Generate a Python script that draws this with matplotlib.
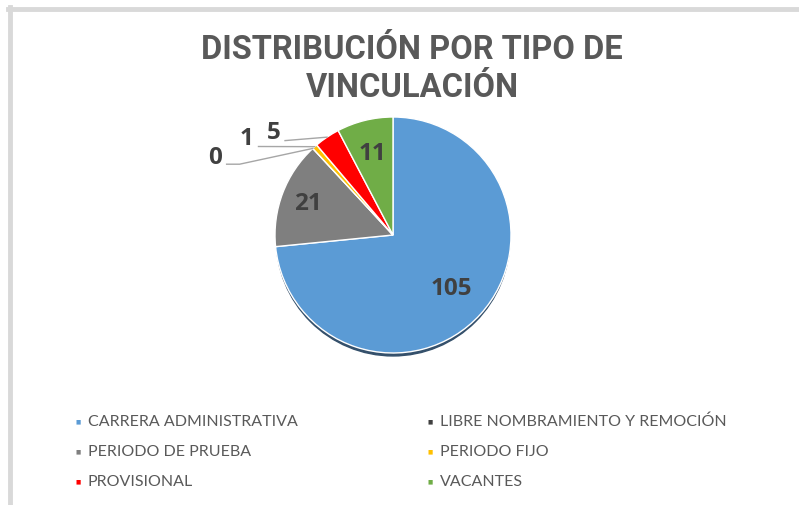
import numpy as np
import matplotlib.pyplot as plt
from matplotlib.patches import Ellipse
from matplotlib.lines import Line2D

# Vinculación por tipo (orden de las porciones en el pastel)
categorias = ['CARRERA ADMINISTRATIVA', 'PERIODO DE PRUEBA', 'LIBRE NOMBRAMIENTO Y REMOCIÓN',
              'PERIODO FIJO', 'PROVISIONAL', 'VACANTES']
valores = [105, 21, 0, 1, 5, 11]
colores = ['#5B9BD5', '#7F7F7F', '#404040', '#FFC000', '#FF0000', '#70AD47']

# Orden de la leyenda (por filas)
orden_leyenda = ['CARRERA ADMINISTRATIVA', 'LIBRE NOMBRAMIENTO Y REMOCIÓN',
                 'PERIODO DE PRUEBA', 'PERIODO FIJO', 'PROVISIONAL', 'VACANTES']

W, H = 799, 506
fig = plt.figure(figsize=(W / 100, H / 100), dpi=100)

# ejes en pixeles: 1 unidad = radio del pastel
R = 118.0
cx, cy = 393.0, H - 236.0
ax = fig.add_axes([0, 0, 1, 1])

# marco gris (solo borde superior e izquierdo visibles)
fig.add_artist(Line2D([8 / W, 1], [1 - 10 / H, 1 - 10 / H], color='#D9D9D9', lw=3.5))
fig.add_artist(Line2D([10 / W, 10 / W], [0, 1 - 8 / H], color='#D9D9D9', lw=3.5))

# sombra bajo el pastel
ax.add_patch(Ellipse((0, -0.03), 1.98, 1.99, color='#34506B', zorder=1))

wedges, _ = ax.pie(valores, colors=colores, startangle=90, counterclock=False,
                   radius=1.0, center=(0, 0), frame=True,
                   wedgeprops=dict(edgecolor='white', linewidth=1.0, zorder=2))
ax.set_xlim(-cx / R, (W - cx) / R)
ax.set_ylim(-cy / R, (H - cy) / R)
ax.set_aspect('equal')
ax.axis('off')

fuente_num = dict(fontsize=17.5, fontweight='bold', color='#404040',
                  family='Open Sans', ha='center', va='center', zorder=5)

# etiquetas dentro de las porciones grandes
dist_dentro = {105: 0.67, 21: 0.77, 11: 0.72}
for w, v in zip(wedges, valores):
    ang = np.deg2rad((w.theta1 + w.theta2) / 2)
    if v in dist_dentro:
        r = dist_dentro[v]
        ax.text(r * np.cos(ang), r * np.sin(ang), str(v), **fuente_num)

# etiquetas externas con línea guía
externas = {0: ((-1.51, 0.66), [(-1.41, 0.60), (-1.30, 0.60)]),
            1: ((-1.24, 0.82), [(-1.14, 0.75)]),
            5: ((-1.01, 0.87), [(-0.915, 0.80)])}
for w, v in zip(wedges, valores):
    if v not in externas:
        continue
    ang = np.deg2rad((w.theta1 + w.theta2) / 2)
    (tx, ty), guia = externas[v]
    ax.text(tx, ty, str(v), **fuente_num)
    pts = guia + [(np.cos(ang), np.sin(ang))]
    xs, ys = zip(*pts)
    ax.plot(xs, ys, color='#A6A6A6', lw=1.0, zorder=4)

# título
fig.text(412 / W, 1 - 69 / H, 'DISTRIBUCIÓN POR TIPO DE\nVINCULACIÓN',
         ha='center', va='center', fontsize=23.5, fontweight='bold',
         color='#595959', family='Roboto', linespacing=1.25)

# leyenda en dos columnas
for i, nombre in enumerate(orden_leyenda):
    fila, col = divmod(i, 2)
    x = (75 if col == 0 else 427) / W
    y = 1 - (422 + fila * 30) / H
    c = colores[categorias.index(nombre)]
    fig.text(x, y, '■', fontsize=4, color=c, ha='left', va='center', family='DejaVu Sans')
    fig.text(x + 13 / W, y, nombre, fontsize=11.5, color='#595959', ha='left',
             va='center', family='Lato')

fig.savefig('out.png', dpi=100)
